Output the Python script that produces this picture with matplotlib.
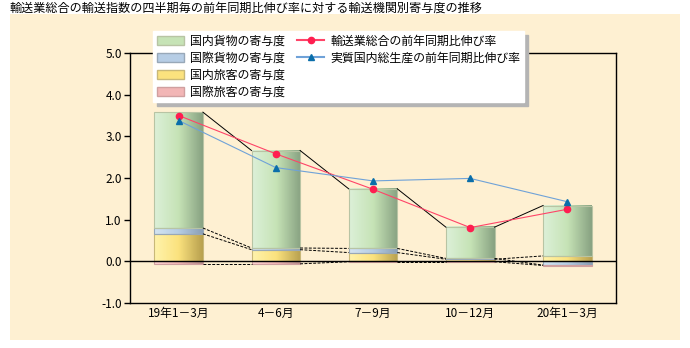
import numpy as np
import matplotlib
matplotlib.use("Agg")
import matplotlib.pyplot as plt
from matplotlib.patches import Rectangle, Patch
from matplotlib.lines import Line2D
from matplotlib.colors import LinearSegmentedColormap

plt.rcParams['font.family'] = ['Noto Sans CJK JP', 'DejaVu Sans']

categories = ['19年1－3月', '4－6月', '7－9月', '10－12月', '20年1－3月']
domestic_passenger = [0.66, 0.28, 0.21, 0.05, 0.13]
international_freight = [0.14, 0.04, 0.10, 0.02, -0.09]
domestic_freight = [2.78, 2.34, 1.43, 0.75, 1.21]
international_passenger = [-0.06, -0.06, -0.01, -0.01, -0.01]
total_growth = [3.50, 2.58, 1.73, 0.81, 1.25]
gdp_growth = [3.38, 2.25, 1.93, 1.99, 1.43]

labels = ['国内貨物の寄与度', '国際貨物の寄与度', '国内旅客の寄与度', '国際旅客の寄与度',
          '輸送業総合の前年同期比伸び率', '実質国内総生産の前年同期比伸び率']

# stacking order (bottom to top): domestic passenger, intl freight, domestic freight, intl passenger
stack = [domestic_passenger, international_freight, domestic_freight, international_passenger]
grads = [
    ('#FFF3AC', '#FBE27E', '#B8A04E'),   # yellow
    ('#D4E5F2', '#B6CDE5', '#8A9FB6'),   # blue
    ('#DCF0D8', '#C6E3B6', '#88A282'),   # green
    ('#FFD4D4', '#F2B6B6', '#B88E8E'),   # pink
]
edges = ['#C8B878', '#98A8B8', '#B8C4A4', '#D0A0A0']

fig = plt.figure(figsize=(6.9, 3.48), dpi=100)
fig.patches.append(Rectangle((10 / 690, 1 - 340 / 348), 670 / 690, 326 / 348,
                             transform=fig.transFigure, facecolor='#FEF0D2',
                             edgecolor='none', zorder=-10))
fig.text(10 / 690, 1 - 15 / 348, '輸送業総合の輸送指数の四半期毎の前年同期比伸び率に対する輸送機関別寄与度の推移',
         fontsize=8.7, ha='left', va='bottom')

ax = fig.add_axes([130 / 690, 45 / 348, 486 / 690, 250 / 348])
ax.set_facecolor('none')

x = np.arange(len(categories))
w = 0.5
pos_base = np.zeros(len(x))
neg_base = np.zeros(len(x))
tops = []  # boundaries for connector lines
for k, vals in enumerate(stack):
    cmap = LinearSegmentedColormap.from_list('g%d' % k, [grads[k][0], grads[k][1], grads[k][2]])
    img = cmap(np.linspace(0, 1, 64))[None, :, :3]
    seg_end = np.zeros(len(x))
    for i, v in enumerate(vals):
        if v >= 0:
            y0, y1 = pos_base[i], pos_base[i] + v
            pos_base[i] = y1
            seg_end[i] = y1
        else:
            y0, y1 = neg_base[i] + v, neg_base[i]
            neg_base[i] = y0
            seg_end[i] = y0
        if abs(v) > 0:
            ax.imshow(img, extent=(x[i] - w / 2, x[i] + w / 2, y0, y1), aspect='auto',
                      interpolation='bilinear', zorder=2)
            ax.add_patch(Rectangle((x[i] - w / 2, y0), w, y1 - y0, facecolor='none',
                                   edgecolor=edges[k], linewidth=0.8, zorder=3))
    tops.append(seg_end.copy())

# connector lines between neighbouring bars
for k, ends in enumerate(tops):
    style = '-' if k == 2 else (0, (3, 1.5))
    for i in range(len(x) - 1):
        ax.plot([x[i] + w / 2, x[i + 1] - w / 2], [ends[i], ends[i + 1]], color='black',
                linewidth=0.7, linestyle=style, zorder=4)

ax.axhline(0, color='black', linewidth=1.0, zorder=5)
ax.plot(x, total_growth, color='#FF4468', linewidth=0.8, marker='o', markersize=4.5,
        markerfacecolor='#FF1E50', markeredgecolor='#FF1E50', zorder=6)
ax.plot(x, gdp_growth, color='#6FA2D8', linewidth=0.8, marker='^', markersize=4.5,
        markerfacecolor='#0A6EAA', markeredgecolor='#0A6EAA', zorder=6)

ax.set_xlim(-0.5, len(x) - 0.5)
ax.set_ylim(-1, 5)
ax.set_yticks(np.arange(-1, 6, 1))
ax.set_yticklabels(['%.1f' % v for v in np.arange(-1, 6, 1)], fontsize=8.5)
ax.set_xticks(x)
ax.set_xticklabels(categories, fontsize=8.5)
ax.tick_params(axis='x', length=0, pad=3)
ax.tick_params(axis='y', length=4, width=1, pad=2)
for s in ax.spines.values():
    s.set_color('black')
    s.set_linewidth(1.0)

handles = [Patch(facecolor=grads[2][1], edgecolor=edges[2]),
           Patch(facecolor=grads[1][1], edgecolor=edges[1]),
           Patch(facecolor=grads[0][1], edgecolor=edges[0]),
           Patch(facecolor=grads[3][1], edgecolor=edges[3]),
           Line2D([], [], color='#FF4468', marker='o', markersize=4.5,
                  markerfacecolor='#FF1E50', markeredgecolor='#FF1E50'),
           Line2D([], [], color='#6FA2D8', marker='^', markersize=4.5,
                  markerfacecolor='#0A6EAA', markeredgecolor='#0A6EAA'),
           Line2D([], [], color='none'), Line2D([], [], color='none')]
leg = fig.legend(handles, labels + ['', ''], ncol=2, loc='upper left',
                 bbox_to_anchor=(153 / 690, 1 - 31 / 348), fontsize=8.6,
                 frameon=True, fancybox=False, edgecolor='white', framealpha=1,
                 shadow={'color': '#B4B4B4', 'alpha': 1, 'ox': 3, 'oy': -3},
                 handlelength=2.3, handleheight=0.8, labelspacing=0.33,
                 columnspacing=1.0, handletextpad=0.5, borderpad=0.3, borderaxespad=0)
leg.set_zorder(10)

fig.savefig('out.png', dpi=100)
